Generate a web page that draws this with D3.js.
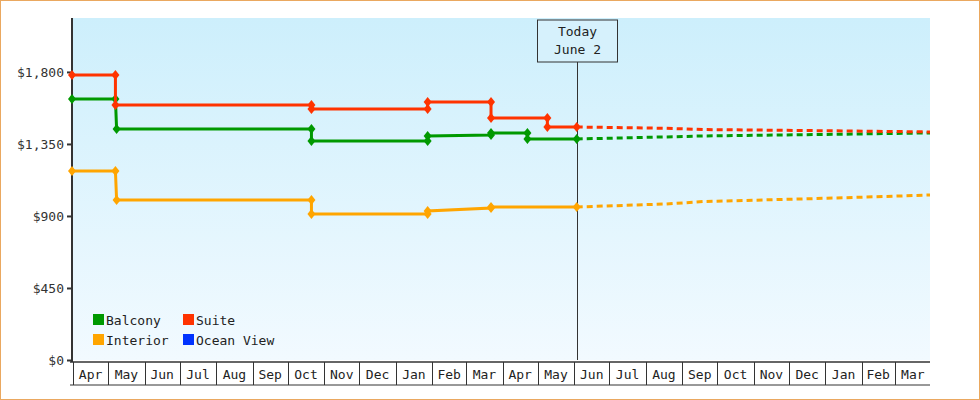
<!DOCTYPE html>
<html lang="en">
<head>
<meta charset="UTF-8">
<script src="https://d3js.org/d3.v7.min.js"></script>
<style>
  * { margin: 0; padding: 0; }
  body { background: #fff; }
  text { font-family: "DejaVu Sans Mono", monospace; }
</style>
</head>
<body>
<script>
// data
var months = ['Apr','May','Jun','Jul','Aug','Sep','Oct','Nov','Dec','Jan','Feb','Mar','Apr','May','Jun','Jul','Aug','Sep','Oct','Nov','Dec','Jan','Feb','Mar'];
var yTicks = [0, 450, 900, 1350, 1800];
var todayDate = '2024-06-04';

var suiteDates  = ['2023-04-01','2023-05-08','2023-05-08','2023-10-22','2023-10-22','2024-01-29','2024-01-29','2024-03-23','2024-03-23','2024-05-10','2024-05-10','2024-06-04'];
var suiteValues = [1781,1781,1594,1594,1569,1569,1612,1612,1512,1512,1456,1456];
var balconyDates  = ['2023-04-01','2023-05-08','2023-05-09','2023-10-22','2023-10-22','2024-01-29','2024-01-29','2024-03-23','2024-03-23','2024-04-23','2024-04-23','2024-06-04'];
var balconyValues = [1631,1631,1444,1444,1369,1369,1400,1406,1419,1419,1381,1381];
var interiorDates  = ['2023-04-01','2023-05-08','2023-05-09','2023-10-22','2023-10-22','2024-01-29','2024-01-29','2024-03-23','2024-03-23','2024-06-04'];
var interiorValues = [1181,1181,1000,1000,912,912,931,950,956,956];

var fcDates = ['2024-06-04','2024-08-19','2024-09-20','2025-01-10','2025-04-01'];
var suiteFc    = [1456,1448,1440,1432,1425];
var balconyFc  = [1381,1394,1400,1410,1419];
var interiorFc = [956,975,990,1012,1031];

var legendNames  = ['Balcony','Suite','Interior','Ocean View'];
var legendColors = ['#009900','#ff3300','#ffa500','#0033ff'];

var W = 980, H = 400;
var plotLeft = 72, plotRight = 930, plotTop = 18, plotBottom = 360;
var parse = d3.timeParse('%Y-%m-%d');

var svg = d3.select('body').append('svg').attr('width', W).attr('height', H);

var defs = svg.append('defs');
var grad = defs.append('linearGradient').attr('id', 'bg').attr('x1', 0).attr('y1', 0).attr('x2', 0).attr('y2', 1);
grad.append('stop').attr('offset', '0%').attr('stop-color', '#cdeffc');
grad.append('stop').attr('offset', '100%').attr('stop-color', '#f2faff');

svg.append('rect').attr('x', 0.5).attr('y', 0.5).attr('width', W - 1).attr('height', H - 1)
  .attr('fill', '#fff').attr('stroke', '#eaa860');
svg.append('rect').attr('x', plotLeft).attr('y', plotTop).attr('width', plotRight - plotLeft).attr('height', plotBottom - plotTop)
  .attr('fill', 'url(#bg)');

var x = d3.scaleTime().domain([parse('2023-04-01'), parse('2025-04-01')]).range([plotLeft, plotRight]);
var y = d3.scaleLinear().domain([0, 2137]).range([plotBottom, plotTop]);

// y axis
var yAxis = d3.axisLeft(y).tickValues(yTicks).tickSize(5).tickFormat(function (d) { return '$' + d3.format(',')(d); });
var gy = svg.append('g').attr('transform', 'translate(' + plotLeft + ',0)').call(yAxis);
gy.select('.domain').remove();
gy.selectAll('line').attr('stroke', '#333').attr('stroke-width', 2);
gy.selectAll('text').attr('font-size', 13).attr('fill', '#333').style('font-family', '"DejaVu Sans Mono", monospace');
svg.append('line').attr('x1', plotLeft).attr('x2', plotLeft).attr('y1', plotTop).attr('y2', plotBottom + 2)
  .attr('stroke', '#333').attr('stroke-width', 2);

// x axis cells
var monthStarts = months.map(function (m, i) { return d3.timeMonth.offset(parse('2023-04-01'), i); });
var cellTop = plotBottom + 2, cellBot = 385;
svg.append('line').attr('x1', plotLeft - 2).attr('x2', plotRight).attr('y1', cellTop).attr('y2', cellTop).attr('stroke', '#333').attr('stroke-width', 1.5);
svg.append('line').attr('x1', plotLeft - 2).attr('x2', plotRight).attr('y1', cellBot).attr('y2', cellBot).attr('stroke', '#333').attr('stroke-width', 1);
svg.selectAll('.sep').data(monthStarts).enter().append('line')
  .attr('x1', function (d) { return Math.round(x(d)) + 1.5; }).attr('x2', function (d) { return Math.round(x(d)) + 1.5; })
  .attr('y1', cellTop).attr('y2', cellBot).attr('stroke', '#333');
svg.selectAll('.mlab').data(months).enter().append('text')
  .attr('x', function (d, i) { return (x(monthStarts[i]) + x(d3.timeMonth.offset(monthStarts[i], 1))) / 2 + 1; })
  .attr('y', 379).attr('text-anchor', 'middle').attr('font-size', 13).attr('fill', '#222')
  .text(function (d) { return d; });

// today marker
var tx = Math.round(x(parse(todayDate))) + 0.5;
svg.append('line').attr('x1', tx).attr('x2', tx).attr('y1', 62).attr('y2', plotBottom).attr('stroke', '#333');
svg.append('rect').attr('x', tx - 40).attr('y', 20).attr('width', 80).attr('height', 42)
  .attr('fill', '#d6f1fc').attr('stroke', '#333');
svg.append('text').attr('x', tx).attr('y', 36).attr('text-anchor', 'middle').attr('font-size', 13).attr('fill', '#222').text('Today');
svg.append('text').attr('x', tx).attr('y', 54).attr('text-anchor', 'middle').attr('font-size', 13).attr('fill', '#222').text('June 2');

var line = d3.line().x(function (d) { return x(d[0]); }).y(function (d) { return y(d[1]); });

function series(dates, values, fcVals, color) {
  var pts = dates.map(function (d, i) { return [parse(d), values[i]]; });
  var fc = fcDates.map(function (d, i) { return [parse(d), fcVals[i]]; });
  svg.append('path').datum(fc).attr('d', line).attr('fill', 'none').attr('stroke', color)
    .attr('stroke-width', 3).attr('stroke-dasharray', '6,4');
  svg.append('path').datum(pts).attr('d', line).attr('fill', 'none').attr('stroke', color).attr('stroke-width', 3);
  svg.selectAll(null).data(pts).enter().append('path')
    .attr('d', 'M0,-5L4,0L0,5L-4,0Z')
    .attr('transform', function (d) { return 'translate(' + x(d[0]) + ',' + y(d[1]) + ')'; })
    .attr('fill', color);
}
series(interiorDates, interiorValues, interiorFc, '#ffa500');
series(balconyDates, balconyValues, balconyFc, '#009900');
series(suiteDates, suiteValues, suiteFc, '#ff3300');

// legend
var lg = svg.selectAll('.lg').data(legendNames).enter().append('g')
  .attr('transform', function (d, i) { return 'translate(' + (93 + (i % 2) * 90) + ',' + (314 + Math.floor(i / 2) * 20) + ')'; });
lg.append('rect').attr('width', 11).attr('height', 11).attr('fill', function (d, i) { return legendColors[i]; });
lg.append('text').attr('x', 13).attr('y', 11).attr('font-size', 13).attr('fill', '#222').text(function (d) { return d; });
</script>
</body>
</html>
